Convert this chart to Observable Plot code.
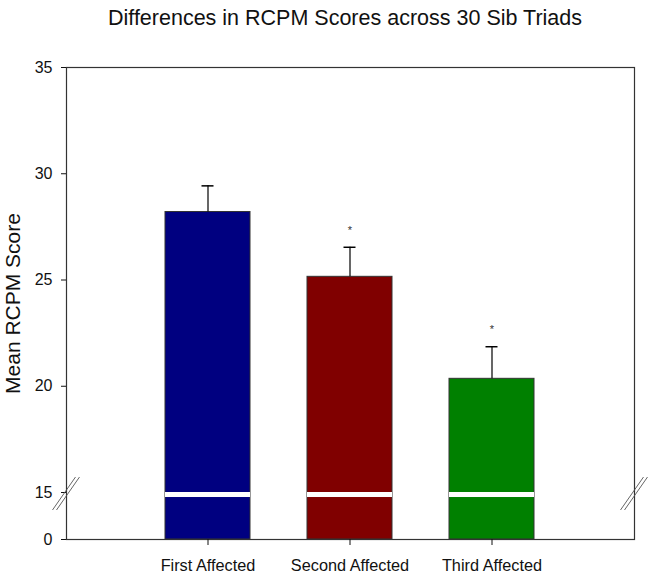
<!DOCTYPE html>
<html>
<head>
<meta charset="utf-8">
<script src="https://cdn.jsdelivr.net/npm/d3@7"></script>
<script src="https://cdn.jsdelivr.net/npm/@observablehq/plot@0.6"></script>
<style>
  html, body { margin: 0; padding: 0; background: #fff; }
  #title { height: 48px; box-sizing: border-box; padding-top: 3px; padding-left: 40px;
    font-family: "Liberation Sans", Arial, sans-serif; font-size: 21.5px; line-height: 30px;
    text-align: center; color: #111; }
  #chart svg { display: block; }
</style>
</head>
<body>
<div id="title">Differences in RCPM Scores across 30 Sib Triads</div>
<div id="chart"></div>
<script>
// ---- data ----
const groups = ["First Affected", "Second Affected", "Third Affected"];
const means = [28.2, 25.15, 20.35];
const stdErrors = [1.23, 1.39, 1.51];
const significance = ["", "*", "*"];
const barColors = ["#000080", "#800000", "#008000"];
const yTicks = [0, 15, 20, 25, 30, 35];
const yBreak = 15;           // axis break value
const yBreakGapLow = 13.4;   // bottom of the white break band

const data = groups.map((g, i) => ({
  group: g, mean: means[i], se: stdErrors[i], top: means[i] + stdErrors[i], sig: significance[i]
}));

const W = 650, H = 528;
const mL = 66, mR = 16, mT = 19, mB = 37;

// axis break marks (drawn through the plot's y scale)
function breakMarks(index, scales, values, dims) {
  const g = d3.create("svg:g").attr("stroke", "#555").attr("stroke-width", 0.9).attr("fill", "none");
  const yc = scales.y(yBreak) + 1.5;
  for (const xc of [dims.marginLeft, dims.width - dims.marginRight]) {
    for (const off of [-2, 2]) {
      g.append("line")
        .attr("x1", xc - 11.5 + off).attr("y1", yc + 16.5)
        .attr("x2", xc + 11.5 + off).attr("y2", yc - 16.5);
    }
  }
  return g.node();
}

const chart = Plot.plot({
  width: W, height: H,
  marginLeft: mL, marginRight: mR, marginTop: mT, marginBottom: mB,
  style: { fontFamily: "'Liberation Sans', Arial, sans-serif", color: "#111", background: "white" },
  x: { type: "band", domain: groups, paddingInner: 0.4, paddingOuter: 0.7, label: null },
  y: { type: "linear", domain: [0, yBreak, 35], range: [H - mB, H - mB - 47, mT], label: null },
  color: { domain: groups, range: barColors },
  marks: [
    Plot.barY(data, { x: "group", y: "mean", fill: "group", stroke: "#333", strokeWidth: 1 }),
    Plot.barY(data, { x: "group", y1: yBreakGapLow, y2: yBreak, fill: "white" }),
    Plot.ruleX(data, { x: "group", y1: "mean", y2: "top", stroke: "#000", strokeWidth: 1.2 }),
    Plot.tickY(data, { x: "group", y: "top", stroke: "#000", strokeWidth: 1.5, insetLeft: 36.5, insetRight: 36.5 }),
    Plot.text(data, { x: "group", y: "top", text: "sig", dy: -17, fontSize: 11, fill: "#333" }),
    Plot.frame({ stroke: "#333", strokeWidth: 1.2 }),
    Plot.axisY({ ticks: yTicks, tickFormat: d => String(d), tickSize: 5, tickPadding: 9, fontSize: 16,
      label: "Mean RCPM Score", labelAnchor: "center", labelArrow: "none", labelOffset: 61 }),
    Plot.axisX({ tickSize: 6, tickPadding: 14, fontSize: 16.3, label: null }),
    breakMarks
  ]
});
document.getElementById("chart").appendChild(chart);
// y-label font size
chart.querySelectorAll("g[aria-label='y-axis label'] text").forEach(t => {
  t.setAttribute("font-size", "21");
  t.textContent = "Mean RCPM Score";
});
</script>
</body>
</html>
